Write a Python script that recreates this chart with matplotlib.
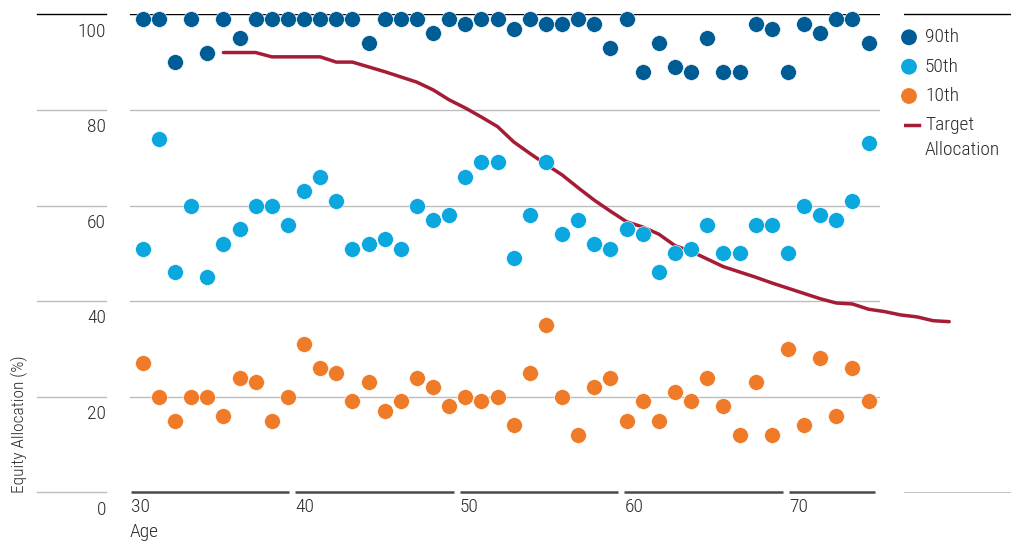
import matplotlib
matplotlib.use("Agg")
import matplotlib.pyplot as plt

# percentile equity allocation by age
ages = list(range(30, 76))
p90 = [99, 99, 90, 99, 92, 99, 95, 99, 99, 99, 99, 99, 99, 99, 94, 99,
       99, 99, 96, 99, 98, 99, 99, 97, 99, 98, 98, 99, 98, 93, 99, 88,
       94, 89, 88, 95, 88, 88, 98, 97, 88, 98, 96, 99, 99, 94]
p50 = [51, 74, 46, 60, 45, 52, 55, 60, 60, 56, 63, 66, 61, 51, 52, 53,
       51, 60, 57, 58, 66, 69, 69, 49, 58, 69, 54, 57, 52, 51, 55, 54,
       46, 50, 51, 56, 50, 50, 56, 56, 50, 60, 58, 57, 61, 73]
p10 = [27, 20, 15, 20, 20, 16, 24, 23, 15, 20, 31, 26, 25, 19, 23, 17,
       19, 24, 22, 18, 20, 19, 20, 14, 25, 35, 20, 12, 22, 24, 15, 19,
       15, 21, 19, 24, 18, 12, 23, 12, 30, 14, 28, 16, 26, 19]

# target glide path
target_ages = list(range(35, 81))
target = [92.0, 92.0, 92.0, 91.1, 91.1, 91.1, 91.1, 90.0, 90.0, 89.0,
          88.0, 86.9, 85.8, 84.2, 82.1, 80.4, 78.5, 76.5, 73.3, 70.9,
          68.6, 66.4, 63.7, 61.1, 58.8, 56.6, 55.5, 54.0, 51.6, 50.4,
          48.8, 47.2, 46.1, 45.0, 43.8, 42.7, 41.6, 40.5, 39.6, 39.4,
          38.3, 37.8, 37.1, 36.7, 35.9, 35.7]

yticks = [0, 20, 40, 60, 80, 100]
decades = [30, 40, 50, 60, 70]

C90 = "#005C95"
C50 = "#0BA7DF"
C10 = "#EF7B28"
CLINE = "#A51C37"
GRID = "#BDBDBD"
TXT = "#2b2b2b"
FS = 14

plt.rcParams["font.family"] = ["Roboto Condensed", "DejaVu Sans"]
plt.rcParams["font.weight"] = "light"

W, H = 1014, 544
fig = plt.figure(figsize=(W / 100, H / 100), dpi=100)


def box(x0, x1, ytop, ybot):
    return [x0 / W, 1 - ybot / H, (x1 - x0) / W, (ybot - ytop) / H]


y_top, y_bot = 14.3, 492.3

# main plot
ax = fig.add_axes(box(130, 880, y_top, y_bot))
ax.set_xlim(29.21, 75.71)
ax.set_ylim(0, 100)
ax.axis("off")
for v in yticks[1:]:
    ax.axhline(v, color="black" if v == 100 else GRID, lw=1, zorder=1)

ax.plot(target_ages, target, color=CLINE, lw=2.5, solid_capstyle="round",
        solid_joinstyle="round", clip_on=False, zorder=2)
for vals, col in [(p90, C90), (p50, C50), (p10, C10)]:
    ax.scatter(ages, vals, s=130, color=col, edgecolors="white",
               linewidths=0.4, clip_on=False, zorder=3)

# segmented age axis
for d in decades:
    start = 29.26 + (d - 30) * 1.02
    end = min(start + 9.81, 75.4)
    ax.plot([start, end], [0, 0], color="#4a4a4a", lw=1.8,
            solid_capstyle="butt", clip_on=False, zorder=2)
    ax.annotate(str(d), (start, 0), xytext=(0, -4), textcoords="offset points",
                ha="left", va="top", fontsize=FS, color=TXT)

fig.text(130 / W, 1 - 532 / H, "Age", ha="left", va="center",
         fontsize=FS, color=TXT)

# value column on the left
yax = fig.add_axes(box(37, 106, y_top, y_bot))
yax.set_xlim(0, 1)
yax.set_ylim(0, 100)
yax.axis("off")
for v in yticks:
    yax.axhline(v, color="black" if v == 100 else GRID, lw=1, clip_on=False)
    yax.annotate(str(v), (1, v), xytext=(0, -12.5), textcoords="offset points",
                 xycoords=("axes fraction", "data"), ha="right", va="center",
                 fontsize=FS, color=TXT)

fig.text(19 / W, 1 - 493 / H, "Equity Allocation (%)", rotation=90,
         ha="center", va="bottom", fontsize=12.5, color=TXT)

# legend column
lax = fig.add_axes(box(904, 1011, 13, 493))
lax.set_xlim(904, 1011)
lax.set_ylim(493, 13)
lax.axis("off")
lax.axhline(13.5, color="black", lw=1)
lax.axhline(492.5, color=GRID, lw=2)
for yy, col, lab in [(37.3, C90, "90th"), (66.7, C50, "50th"), (96, C10, "10th")]:
    lax.scatter([909], [yy], s=130, color=col, edgecolors="none", clip_on=False)
    lax.text(925, yy, lab, ha="left", va="center", fontsize=FS, color=TXT)
lax.plot([902, 919], [125, 125], color=CLINE, lw=2.5)
lax.text(925, 125, "Target", ha="left", va="center", fontsize=FS, color=TXT)
lax.text(925, 150, "Allocation", ha="left", va="center", fontsize=FS, color=TXT)

fig.savefig("out.png", dpi=100, facecolor="white")
